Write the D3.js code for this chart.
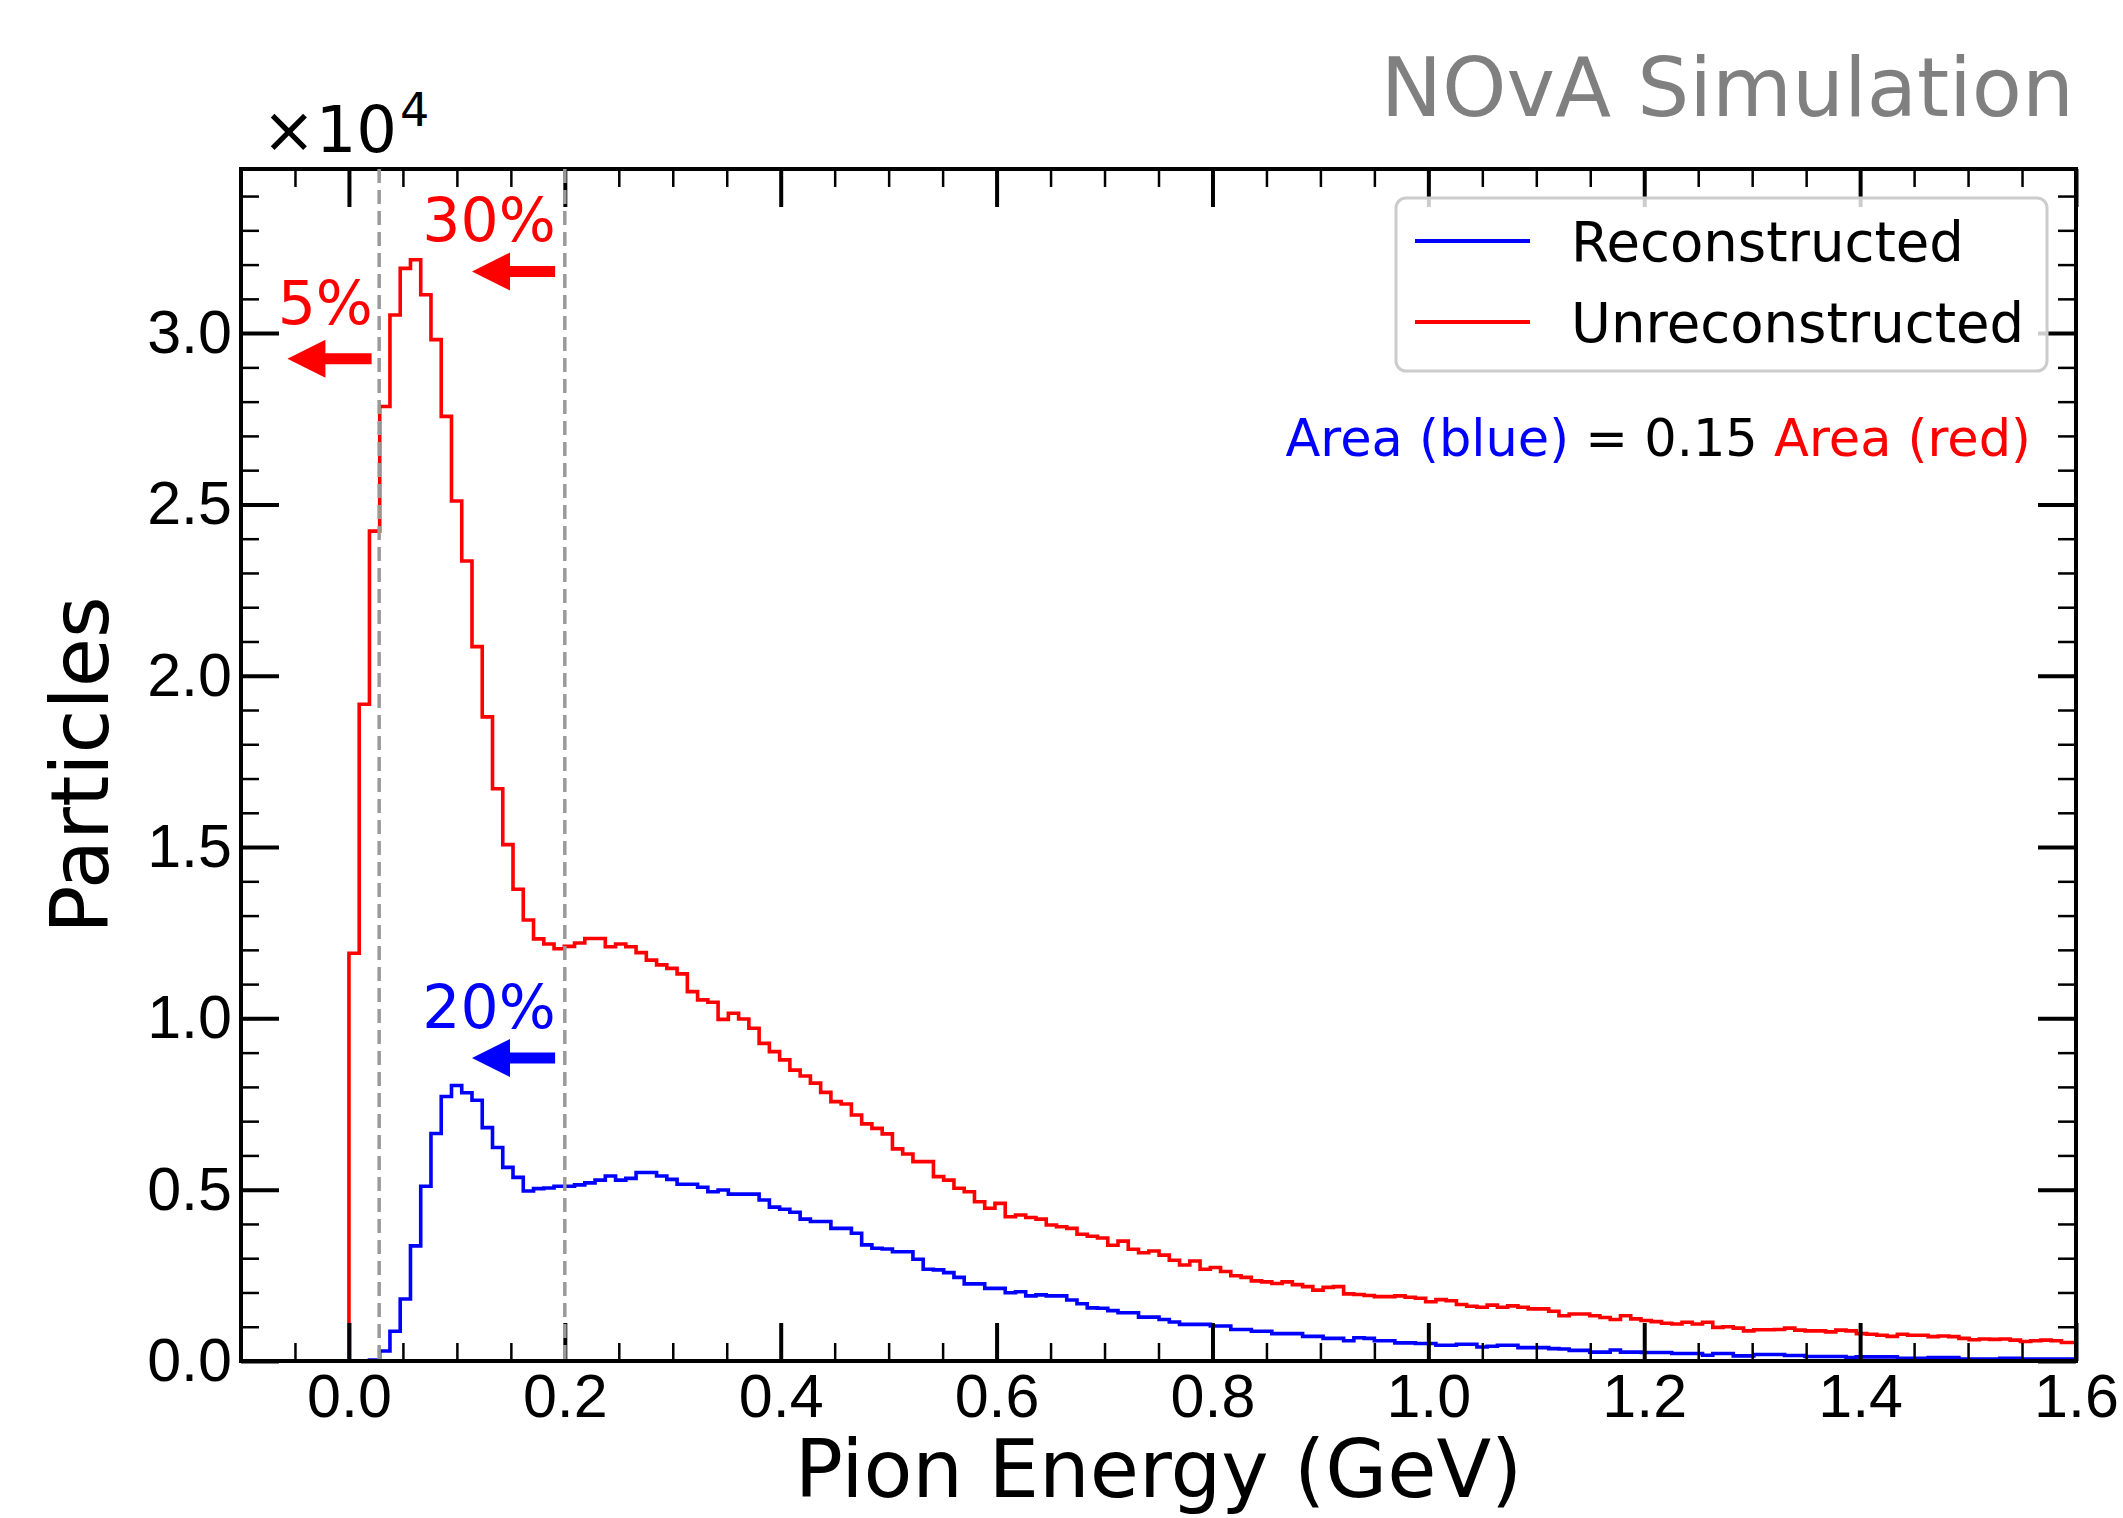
<!DOCTYPE html>
<html lang="en">
<head>
<meta charset="utf-8">
<title>Pion Energy</title>
<script src="https://cdn.jsdelivr.net/npm/d3@7"></script>
<style>
body {
  margin: 0;
  background: #fff;
}
svg {
  display: block;
  font-family: "DejaVu Sans", sans-serif;
}
</style>
</head>
<body>
<div id="chart"></div>
<script>

// histogram binning (GeV)
var binStart = 0.0;
var binWidth = 0.0095;

// Unreconstructed pions per bin (red)
var unreco = [
  11900, 19170, 24220, 27860, 30530, 31890, 32140, 31120, 29810, 27570,
  25100, 23350, 20850, 18800, 16700, 15070, 13770, 12870, 12320, 12170,
  12030, 12100, 12200, 12330, 12330, 12090, 12170, 12090, 11920, 11700,
  11560, 11460, 11300, 10780, 10540, 10470, 9970, 10150, 9980, 9710,
  9270, 9030, 8790, 8490, 8320, 8110, 7840, 7570, 7500, 7180,
  6920, 6790, 6630, 6190, 6040, 5820, 5820, 5380, 5280, 5040,
  4940, 4650, 4460, 4600, 4210, 4260, 4190, 4140, 3970, 3920,
  3870, 3700, 3640, 3590, 3380, 3500, 3260, 3160, 3210, 3090,
  2940, 2800, 2920, 2680, 2730, 2610, 2490, 2440, 2340, 2310,
  2260, 2310, 2230, 2170, 2070, 2150, 2170, 1960, 1940, 1910,
  1880, 1880, 1900, 1860, 1830, 1730, 1790, 1760, 1650, 1600,
  1570, 1630, 1570, 1610, 1570, 1520, 1520, 1450, 1320, 1370,
  1370, 1320, 1270, 1210, 1320, 1230, 1180, 1150, 1100, 1080,
  1130, 1080, 1130, 980, 1000, 960, 880, 910, 910, 920,
  960, 900, 880, 880, 850, 900, 880, 800, 780, 750,
  720, 780, 750, 750, 710, 730, 710, 660, 620, 640,
  630, 640, 610, 570, 590, 610, 590, 540, 540
];

// Reconstructed pions per bin (blue)
var reco = [
  0, 0, 30, 290, 870, 1810, 3360, 5100, 6640, 7720,
  8040, 7830, 7610, 6810, 6230, 5650, 5360, 4960, 5030, 5050,
  5100, 5100, 5140, 5200, 5280, 5400, 5280, 5330, 5500, 5500,
  5400, 5300, 5160, 5160, 5070, 4940, 4990, 4870, 4870, 4870,
  4700, 4490, 4430, 4340, 4140, 4070, 4070, 3870, 3870, 3730,
  3390, 3290, 3270, 3190, 3190, 2970, 2680, 2660, 2580, 2440,
  2250, 2250, 2120, 2120, 1990, 2020, 1900, 1930, 1900, 1900,
  1780, 1670, 1550, 1540, 1470, 1410, 1410, 1280, 1280, 1210,
  1140, 1070, 1070, 1070, 1020, 1020, 920, 920, 870, 870,
  800, 800, 800, 720, 720, 660, 660, 590, 680, 660,
  590, 590, 530, 530, 510, 510, 460, 460, 490, 490,
  410, 430, 460, 460, 390, 390, 390, 360, 350, 310,
  310, 260, 260, 320, 260, 260, 250, 250, 250, 220,
  220, 220, 170, 220, 220, 150, 150, 190, 190, 190,
  160, 160, 130, 130, 130, 130, 100, 120, 120, 120,
  120, 80, 80, 80, 100, 100, 100, 60, 60, 60,
  60, 80, 80, 60, 60, 60, 60, 60, 60
];

var seriesNames = ["Reconstructed", "Unreconstructed"];
var seriesColors = ["#0000ff", "#ff0000"];

var xTicks = [0.0, 0.2, 0.4, 0.6, 0.8, 1.0, 1.2, 1.4, 1.6];
var yTicks = [0, 5000, 10000, 15000, 20000, 25000, 30000];

// containment cuts (GeV) and their percentages
var cutLines = [0.028, 0.2];
var notes = [
  { text: "5%",  color: "#ff0000", tx: -0.066, ty: 30270, from: 0.021, to: -0.057, ay: 29250 },
  { text: "30%", color: "#ff0000", tx: 0.068,  ty: 32700, from: 0.191, to: 0.114,  ay: 31800 },
  { text: "20%", color: "#0000ff", tx: 0.068,  ty: 9720,  from: 0.191, to: 0.114,  ay: 8840 }
];

var width = 2123, height = 1518;
var margin = { top: 169, right: 47, bottom: 157, left: 241 };
var innerW = width - margin.left - margin.right;
var innerH = height - margin.top - margin.bottom;

var svg = d3.select("#chart").append("svg")
  .attr("width", width)
  .attr("height", height);

var g = svg.append("g")
  .attr("transform", "translate(" + margin.left + "," + margin.top + ")");

var x = d3.scaleLinear().domain([-0.1, 1.6]).range([0, innerW]);
var y = d3.scaleLinear().domain([0, 34790]).range([innerH, 0]);

g.append("clipPath").attr("id", "plotclip")
  .append("rect").attr("width", innerW).attr("height", innerH);

// step outline like a matplotlib 'step' histogram
function stepPoints(counts) {
  var pts = [[binStart, 0]];
  counts.forEach(function(c, i) {
    var x0 = binStart + i * binWidth;
    pts.push([x0, c], [x0 + binWidth, c]);
  });
  pts.push([binStart + counts.length * binWidth, 0]);
  return pts;
}

var line = d3.line()
  .x(function(d) { return x(d[0]); })
  .y(function(d) { return y(d[1]); });

var hists = g.append("g").attr("clip-path", "url(#plotclip)");
[reco, unreco].forEach(function(counts, i) {
  hists.append("path")
    .datum(stepPoints(counts))
    .attr("d", line)
    .attr("fill", "none")
    .attr("stroke", seriesColors[i])
    .attr("stroke-width", 3.6)
    .attr("stroke-linejoin", "miter");
});

// ticks, inward on all four sides
function styleAxis(sel, fontSize) {
  sel.select(".domain").remove();
  sel.selectAll(".tick line").attr("stroke", "#000");
  sel.selectAll(".tick text")
    .attr("fill", "#000")
    .style("font-size", fontSize + "px");
}

var minorX = d3.range(-0.1, 1.6001, 0.05).map(function(v) { return +v.toFixed(2); });
var minorY = d3.range(0, 34790, 1000);

var bigTick = 38, smallTick = 18;
var tickFont = 61;

g.append("g").attr("transform", "translate(0," + innerH + ")")
  .call(d3.axisBottom(x).tickValues(minorX).tickSize(-smallTick).tickFormat(""))
  .call(styleAxis, 0).selectAll("line").attr("stroke-width", 2.5);
g.append("g")
  .call(d3.axisTop(x).tickValues(minorX).tickSize(-smallTick).tickFormat(""))
  .call(styleAxis, 0).selectAll("line").attr("stroke-width", 2.5);
g.append("g")
  .call(d3.axisLeft(y).tickValues(minorY).tickSize(-smallTick).tickFormat(""))
  .call(styleAxis, 0).selectAll("line").attr("stroke-width", 2.5);
g.append("g").attr("transform", "translate(" + innerW + ",0)")
  .call(d3.axisRight(y).tickValues(minorY).tickSize(-smallTick).tickFormat(""))
  .call(styleAxis, 0).selectAll("line").attr("stroke-width", 2.5);

var xAxis = g.append("g").attr("transform", "translate(0," + innerH + ")")
  .call(d3.axisBottom(x).tickValues(xTicks).tickSize(-bigTick).tickPadding(13)
    .tickFormat(d3.format(".1f")))
  .call(styleAxis, tickFont);
xAxis.selectAll("line").attr("stroke-width", 4);

g.append("g")
  .call(d3.axisTop(x).tickValues(xTicks).tickSize(-bigTick).tickFormat(""))
  .call(styleAxis, 0).selectAll("line").attr("stroke-width", 4);

var yAxis = g.append("g")
  .call(d3.axisLeft(y).tickValues(yTicks).tickSize(-bigTick).tickPadding(9)
    .tickFormat(function(d) { return (d / 1e4).toFixed(1); }))
  .call(styleAxis, tickFont);
yAxis.selectAll("line").attr("stroke-width", 4);

g.append("g").attr("transform", "translate(" + innerW + ",0)")
  .call(d3.axisRight(y).tickValues(yTicks).tickSize(-bigTick).tickFormat(""))
  .call(styleAxis, 0).selectAll("line").attr("stroke-width", 4);

// frame
g.append("rect")
  .attr("width", innerW).attr("height", innerH)
  .attr("fill", "none").attr("stroke", "#000").attr("stroke-width", 4);

// arrows and percentages
var arrowLayer = g.append("g");
notes.forEach(function(n) {
  var x1 = x(n.from), x2 = x(n.to), ya = y(n.ay);
  var head = 38, halfHead = 19, halfShaft = 5.5;
  var xb = x2 + head;
  arrowLayer.append("path")
    .attr("d", "M" + x1 + "," + (ya - halfShaft) + "L" + xb + "," + (ya - halfShaft) +
      "L" + xb + "," + (ya - halfHead) + "L" + x2 + "," + ya +
      "L" + xb + "," + (ya + halfHead) + "L" + xb + "," + (ya + halfShaft) +
      "L" + x1 + "," + (ya + halfShaft) + "Z")
    .attr("fill", n.color);
  arrowLayer.append("text")
    .attr("x", x(n.tx)).attr("y", y(n.ty))
    .attr("fill", n.color)
    .style("font-size", "60px")
    .text(n.text);
});

// cut lines sit above everything in the axes
g.selectAll(".cut").data(cutLines).enter().append("line")
  .attr("class", "cut")
  .attr("x1", function(d) { return x(d); }).attr("x2", function(d) { return x(d); })
  .attr("y1", 0).attr("y2", innerH)
  .attr("stroke", "#9a9a9a").attr("stroke-width", 3.5)
  .attr("stroke-dasharray", "14,7");

// legend
var legend = g.append("g").attr("transform", "translate(" + (1396 - margin.left) + "," + (198 - margin.top) + ")");
legend.append("rect")
  .attr("width", 651).attr("height", 173).attr("rx", 10)
  .attr("fill", "#fff").attr("fill-opacity", 0.8)
  .attr("stroke", "#cccccc").attr("stroke-width", 3);
seriesNames.forEach(function(name, i) {
  var ly = 43 + i * 81;
  legend.append("line")
    .attr("x1", 19).attr("x2", 134).attr("y1", ly).attr("y2", ly)
    .attr("stroke", seriesColors[i]).attr("stroke-width", 4);
  legend.append("text")
    .attr("x", 175).attr("y", ly + 20)
    .style("font-size", "54.5px")
    .text(name);
});

// area ratio note
var areaText = svg.append("text")
  .attr("x", 2031).attr("y", 456)
  .attr("text-anchor", "end")
  .style("font-size", "51px");
areaText.append("tspan").attr("fill", seriesColors[0]).text("Area (blue)");
areaText.append("tspan").attr("fill", "#000").text(" = 0.15 ");
areaText.append("tspan").attr("fill", seriesColors[1]).text("Area (red)");

// offset text for y axis
var offText = svg.append("text")
  .attr("x", 262).attr("y", 152)
  .style("font-size", "64px")
  .text("\u00d710");
offText.append("tspan")
  .attr("dx", 3)
  .attr("dy", -26)
  .style("font-size", "46px")
  .text("4");

svg.append("text")
  .attr("x", 2074).attr("y", 116)
  .attr("text-anchor", "end")
  .attr("fill", "#808080")
  .style("font-size", "82px")
  .text("NOvA Simulation");

// axis titles
svg.append("text")
  .attr("x", margin.left + innerW / 2).attr("y", 1497)
  .attr("text-anchor", "middle")
  .style("font-size", "80px")
  .text("Pion Energy (GeV)");

svg.append("text")
  .attr("transform", "translate(108," + (margin.top + innerH / 2) + ") rotate(-90)")
  .attr("text-anchor", "middle")
  .style("font-size", "80px")
  .text("Particles");

</script>
</body>
</html>
